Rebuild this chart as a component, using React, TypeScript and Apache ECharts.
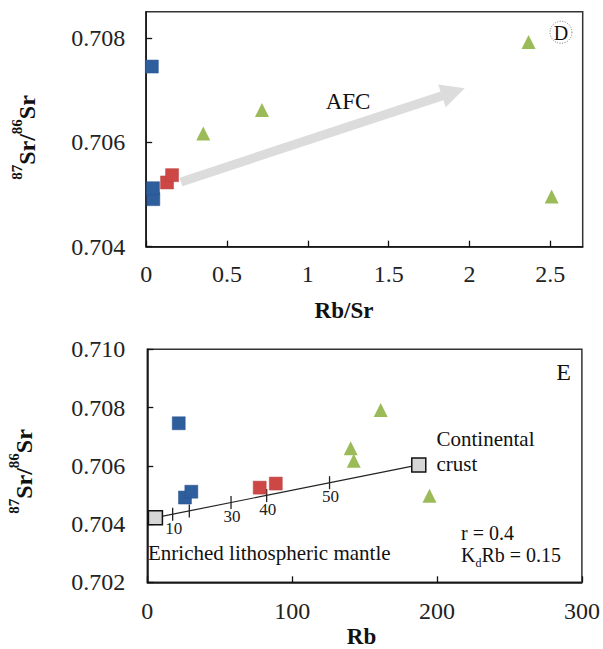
import React, { useEffect, useRef } from "react";
import * as echarts from "echarts";

// ---- data ----
const topBlue: number[][] = [[0.035, 0.70745], [0.044, 0.70491], [0.042, 0.70512]];
const topRed: number[][] = [[0.129, 0.70523], [0.160, 0.70537]];
const topGreen: number[][] = [[0.353, 0.70617], [0.716, 0.70662], [2.365, 0.70792], [2.508, 0.70496]];
const afcArrow: number[][] = [[0.215, 0.70524], [1.9, 0.70696]];

const bottomBlue: number[][] = [[21.7, 0.70746], [26.0, 0.70491], [30.4, 0.70511]];
const bottomRed: number[][] = [[77.6, 0.70525], [88.7, 0.70539]];
const bottomGreen: number[][] = [[140.4, 0.7066], [142.5, 0.70617], [161.1, 0.70792], [194.8, 0.70497]];
const endMembers: number[][] = [[5.6, 0.70422], [187.4, 0.70603]];
const mixTicks: number[][] = [[17.5, 0.70434], [29.0, 0.70445], [57.8, 0.70474], [82.4, 0.70498], [125.8, 0.70542]];
const mixTickLabels: string[] = ["10", "", "30", "40", "50"];

const topXTicks = { min: 0, max: 2.7, interval: 0.5 };
const topYTicks = { min: 0.704, max: 0.7085, interval: 0.002 };
const botXTicks = { min: 0, max: 300, interval: 100 };
const botYTicks = { min: 0.702, max: 0.71, interval: 0.002 };

const FONT = "'Liberation Serif', 'Times New Roman', serif";
const BLUE = "#2f5e9c";
const RED = "#cd4845";
const GREEN = "#9bbb59";

export default function App() {
  const ref = useRef<HTMLDivElement>(null);
  useEffect(() => {
    if (!ref.current) return;
    const chart = echarts.init(ref.current, undefined, { renderer: "svg" });

    const axisCommon = {
      axisLine: { show: true, lineStyle: { color: "#111", width: 1.5 } },
      axisTick: { show: true, inside: true, length: 6, lineStyle: { color: "#111", width: 1.3 } },
      splitLine: { show: false },
    };
    const labelCommon = { fontFamily: FONT, fontSize: 24, color: "#222" };

    const supTitle = (x: number, y: number) => ({
      type: "text",
      x,
      y,
      rotation: Math.PI / 2,
      style: {
        text: "{s|87}{b|Sr/}{s|86}{b|Sr}",
        align: "center",
        verticalAlign: "middle",
        fill: "#111",
        rich: {
          s: { fontFamily: FONT, fontSize: 15, fontWeight: "bold", lineHeight: 14, verticalAlign: "top", fill: "#111" },
          b: { fontFamily: FONT, fontSize: 24, fontWeight: "bold", lineHeight: 30, verticalAlign: "bottom", fill: "#111" },
        },
      },
    });

    chart.setOption({
      animation: false,
      grid: [
        { left: 146.2, top: 11.7, width: 436.5, height: 235, show: true, borderColor: "#333", borderWidth: 1.5, backgroundColor: "transparent" },
        { left: 147.3, top: 349.3, width: 434.6, height: 233, show: true, borderColor: "#333", borderWidth: 1.5, backgroundColor: "transparent" },
      ],
      xAxis: [
        {
          gridIndex: 0, type: "value", ...topXTicks, ...axisCommon,
          axisLabel: { ...labelCommon, margin: 15, showMaxLabel: false },
        },
        {
          gridIndex: 1, type: "value", ...botXTicks, ...axisCommon,
          axisLabel: { ...labelCommon, margin: 17 },
        },
      ],
      yAxis: [
        {
          gridIndex: 0, type: "value", ...topYTicks, ...axisCommon,
          axisLabel: { ...labelCommon, margin: 21, showMaxLabel: false, formatter: (v: number) => v.toFixed(3) },
        },
        {
          gridIndex: 1, type: "value", ...botYTicks, ...axisCommon,
          axisLabel: { ...labelCommon, margin: 22, formatter: (v: number) => v.toFixed(3) },
        },
      ],
      series: [
        {
          type: "lines",
          coordinateSystem: "cartesian2d",
          xAxisIndex: 0,
          yAxisIndex: 0,
          z: 1,
          symbol: ["none", "triangle"],
          symbolSize: [28, 24],
          lineStyle: { color: "#dcdcdc", width: 9, opacity: 1, curveness: 0 },
          data: [{ coords: afcArrow }],
        },
        {
          type: "scatter", xAxisIndex: 0, yAxisIndex: 0, z: 3,
          symbol: "rect", symbolSize: 13,
          itemStyle: { color: BLUE, borderColor: "#2a5590", borderWidth: 0.5, opacity: 1 },
          data: topBlue,
        },
        {
          type: "scatter", xAxisIndex: 0, yAxisIndex: 0, z: 3,
          symbol: "rect", symbolSize: 13,
          itemStyle: { color: RED, borderColor: "#b84040", borderWidth: 0.5, opacity: 1 },
          data: topRed,
        },
        {
          type: "scatter", xAxisIndex: 0, yAxisIndex: 0, z: 3,
          symbol: "triangle", symbolSize: 14,
          itemStyle: { color: GREEN, opacity: 1 },
          data: topGreen,
        },
        {
          type: "line", xAxisIndex: 1, yAxisIndex: 1, z: 2,
          symbol: "none",
          lineStyle: { color: "#222", width: 1.2 },
          data: endMembers,
        },
        {
          type: "scatter", xAxisIndex: 1, yAxisIndex: 1, z: 2,
          symbol: "rect", symbolSize: [1.3, 13],
          itemStyle: { color: "#222", opacity: 1 },
          label: {
            show: true,
            position: "inside",
            offset: [1, 14],
            formatter: (p: any) => mixTickLabels[p.dataIndex],
            fontFamily: FONT,
            fontSize: 17,
            color: "#222",
          },
          data: mixTicks,
        },
        {
          type: "scatter", xAxisIndex: 1, yAxisIndex: 1, z: 3,
          symbol: "rect", symbolSize: 14,
          itemStyle: { color: "#d6d6d6", borderColor: "#111", borderWidth: 1.5, opacity: 1 },
          data: endMembers,
        },
        {
          type: "scatter", xAxisIndex: 1, yAxisIndex: 1, z: 3,
          symbol: "rect", symbolSize: 13,
          itemStyle: { color: BLUE, borderColor: "#2a5590", borderWidth: 0.5, opacity: 1 },
          data: bottomBlue,
        },
        {
          type: "scatter", xAxisIndex: 1, yAxisIndex: 1, z: 3,
          symbol: "rect", symbolSize: 13,
          itemStyle: { color: RED, borderColor: "#b84040", borderWidth: 0.5, opacity: 1 },
          data: bottomRed,
        },
        {
          type: "scatter", xAxisIndex: 1, yAxisIndex: 1, z: 3,
          symbol: "triangle", symbolSize: 14,
          itemStyle: { color: GREEN, opacity: 1 },
          data: bottomGreen,
        },
      ],
      graphic: [
        supTitle(24, 137.5),
        supTitle(21, 471.5),
        {
          type: "text", x: 344, y: 310,
          style: { text: "Rb/Sr", font: `bold 23px ${FONT}`, fill: "#111", align: "center", verticalAlign: "middle" },
        },
        {
          type: "text", x: 361.5, y: 636.5,
          style: { text: "Rb", font: `bold 23px ${FONT}`, fill: "#111", align: "center", verticalAlign: "middle" },
        },
        {
          type: "text", x: 348, y: 101.7,
          style: { text: "AFC", font: `23px ${FONT}`, fill: "#111", align: "center", verticalAlign: "middle" },
        },
        {
          type: "circle", shape: { cx: 561, cy: 32.3, r: 11 },
          style: { fill: "none", stroke: "#777", lineWidth: 1, lineDash: [1, 1.5] },
        },
        {
          type: "text", x: 561, y: 33,
          style: { text: "D", font: `20px ${FONT}`, fill: "#111", align: "center", verticalAlign: "middle" },
        },
        {
          type: "text", x: 563.5, y: 371.7,
          style: { text: "E", font: `24px ${FONT}`, fill: "#111", align: "center", verticalAlign: "middle" },
        },
        {
          type: "text", x: 436.5, y: 451.5,
          style: { text: "Continental\ncrust", font: `21px ${FONT}`, lineHeight: 25, fill: "#111", align: "left", verticalAlign: "middle" },
        },
        {
          type: "text", x: 148, y: 552.7,
          style: { text: "Enriched lithospheric mantle", font: `21px ${FONT}`, fill: "#111", align: "left", verticalAlign: "middle" },
        },
        {
          type: "text", x: 461, y: 533,
          style: { text: "r = 0.4", font: `20px ${FONT}`, fill: "#111", align: "left", verticalAlign: "middle" },
        },
        {
          type: "text", x: 461, y: 556.7,
          style: {
            text: "{n|K}{d|d}{n|Rb = 0.15}",
            align: "left",
            verticalAlign: "middle",
            rich: {
              n: { fontFamily: FONT, fontSize: 20, lineHeight: 24, verticalAlign: "top", fill: "#111" },
              d: { fontFamily: FONT, fontSize: 12, lineHeight: 12, verticalAlign: "bottom", fill: "#111" },
            },
          },
        },
      ],
    });
    return () => chart.dispose();
  }, []);
  return <div ref={ref} style={{ position: "fixed", left: 0, top: 0, width: 603, height: 649, background: "#fff" }} />;
}
